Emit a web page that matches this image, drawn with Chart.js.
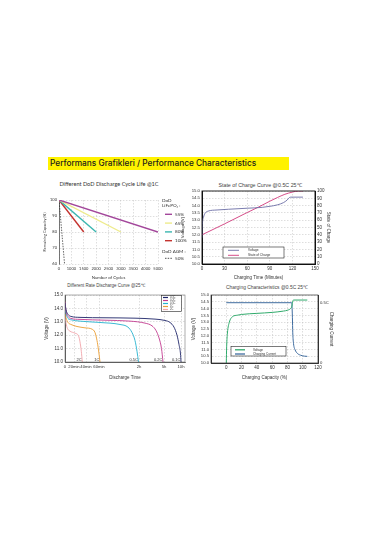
<!DOCTYPE html>
<html>
<head>
<meta charset="utf-8">
<script src="https://cdn.jsdelivr.net/npm/chart.js@4.4.1/dist/chart.umd.min.js"></script>
<style>
  body { margin: 0; background: #fff; }
  #page { position: relative; width: 375px; height: 535px; overflow: hidden; background: #fff; }
  .banner { position: absolute; left: 48px; top: 157px; width: 241px; height: 13px; background: #fff200;
    font-family: Inter, Roboto, sans-serif; font-weight: 500; font-size: 8.3px; line-height: 13px;
    color: #1a1a1a; padding-left: 2px; box-sizing: border-box; white-space: nowrap; }
  .ttl { position: absolute; width: 200px; text-align: center; white-space: nowrap; color: #444;
    font-family: "Liberation Sans", Arial, sans-serif; line-height: 1.2; }
  canvas { position: absolute; }
</style>
</head>
<body>
<div id="page">
  <div class="banner">Performans Grafikleri / Performance Characteristics</div>

  <div class="ttl" style="left:9px;top:180.6px;font-size:5.6px;font-family:Lato,sans-serif;color:#333">Different DoD Discharge Cycle Life @1C</div>
  <div class="ttl" style="left:160px;top:181.8px;font-size:5.3px">State of Charge Curve @0.5C 25℃</div>
  <div class="ttl" style="left:6px;top:283.3px;font-size:4.5px">Different Rate Discharge Curve @25℃</div>
  <div class="ttl" style="left:167px;top:285px;font-size:4.9px">Charging Characteristics @0.5C 25℃</div>

  <canvas id="dodChart" width="162" height="104" style="left:38px;top:176px"></canvas>
  <canvas id="socChart" width="153" height="102" style="left:180px;top:178px"></canvas>
  <canvas id="rateChart" width="157" height="90" style="left:38px;top:290px"></canvas>
  <canvas id="chargeChart" width="148" height="90" style="left:188px;top:290px"></canvas>
</div>

<script>
const LABEL_FONT = "'Liberation Sans', Arial, sans-serif";

// Different DoD discharge cycle life @1C
const cycleLabels = [0, 1000, 1500, 2000, 2500, 3000, 3500, 4000, 5000];
const dodSeries = ['55%', '65%', '80%', '100%'];
const dodEndCycles = [5000, 3000, 2000, 1500];
const dodStartCapacity = [100, 100, 100, 100];
const dodEndCapacity = [80, 80, 80, 80];
const agmSeries = '50%';
const agmCycles = [0, 450];
const agmCapacity = [100, 60];

// State of charge curve @0.5C 25C
const socVoltTime = [0, 0.5, 2, 4, 8, 20, 35, 60, 80, 90, 100, 108, 113, 116, 118, 134];
const socVoltage = [11.8, 12.7, 13.2, 13.47, 13.62, 13.7, 13.75, 13.82, 13.88, 13.95, 14.05, 14.2, 14.38, 14.55, 14.58, 14.58];
const socTime = [0, 30, 60, 75, 90, 100, 110, 120, 128, 134];
const socCharge = [40, 55, 70.5, 78, 86, 91, 95.5, 98.5, 100, 100];

// Different rate discharge curve @25C (x in axis positions, ticks below)
const rateTickPos = [0, 9, 21, 34, 74, 99, 116];
const rateTickLabels = ['0', '20min', '40min', '60min', '2h', '5h', '10h'];
const rateSeries = ['0.1C', '0.2C', '0.5C', '1C', '2C'];
const rateX = [
  [0, 1, 3, 6, 15, 40, 70, 90, 100, 105, 109, 112, 114, 115.5, 116],
  [0, 1, 3, 6, 15, 40, 65, 80, 87, 91, 94, 96.5, 98],
  [0, 1, 3, 6, 15, 35, 55, 63, 67, 70, 72, 73.5],
  [0, 1, 3, 6, 12, 20, 27, 30, 32, 33.5, 35],
  [0, 1, 2.5, 5, 10, 13.5, 15, 16.3, 17.3]
];
const rateVolt = [
  [14.4, 13.9, 13.55, 13.4, 13.33, 13.3, 13.27, 13.2, 13.1, 12.95, 12.6, 12.0, 11.3, 10.6, 10.0],
  [14.5, 13.8, 13.4, 13.25, 13.18, 13.12, 13.05, 12.9, 12.7, 12.35, 11.8, 11.0, 10.0],
  [14.0, 13.6, 13.25, 13.15, 13.05, 12.95, 12.8, 12.6, 12.2, 11.6, 10.8, 10.0],
  [13.6, 13.3, 12.95, 12.8, 12.65, 12.55, 12.45, 12.2, 11.6, 10.9, 10.0],
  [13.4, 12.9, 12.5, 12.3, 12.15, 11.95, 11.5, 10.8, 10.0]
];

// Charging characteristics @0.5C 25C
const chgVoltCap = [0, 0.5, 1.5, 4, 8, 15, 20, 40, 60, 75, 80, 84, 86, 87, 88, 106];
const chgVoltage = [10.0, 11.2, 12.2, 13.0, 13.4, 13.52, 13.57, 13.65, 13.72, 13.82, 13.88, 14.0, 14.2, 14.55, 14.63, 14.63];
const chgCurrCap = [0, 85.5, 86, 86.5, 87, 88, 90, 93, 97, 102, 106];
const chgCurrent = [0.5, 0.5, 0.47, 0.38, 0.25, 0.16, 0.11, 0.08, 0.065, 0.057, 0.055];

const dodColors = ['#a3479b', '#eeeb8c', '#3bb6b0', '#c4332f'];
const rateColors = ['#1d2468', '#c23a8f', '#25b2cf', '#eb9d32', '#f2a5aa'];

function pairs(xs, ys) {
  return xs.map((x, i) => ({ x: x, y: ys[i] }));
}

// position of a cycle count on the unevenly labelled axis
function cyclePos(c) {
  for (let i = 0; i < cycleLabels.length - 1; i++) {
    if (c <= cycleLabels[i + 1]) {
      return i + (c - cycleLabels[i]) / (cycleLabels[i + 1] - cycleLabels[i]);
    }
  }
  return cycleLabels.length - 1;
}

function fixWidth(w) { return function(scale) { scale.width = w; }; }
function fixHeight(h) { return function(scale) { scale.height = h; }; }

function grid(extra) {
  return Object.assign({ color: '#bdbdbd', lineWidth: 0.5, drawTicks: false }, extra || {});
}

const frame = {
  id: 'frame',
  afterDraw(chart, args, opts) {
    if (!opts.color) return;
    const a = chart.chartArea;
    const ctx = chart.ctx;
    ctx.save();
    ctx.strokeStyle = opts.color;
    ctx.lineWidth = opts.width || 0.8;
    ctx.strokeRect(a.left, a.top, a.right - a.left, a.bottom - a.top);
    ctx.restore();
  }
};

const boxLegend = {
  id: 'boxLegend',
  afterDraw(chart, args, opts) {
    if (!opts.box) return;
    const ctx = chart.ctx;
    const [bx, by, bw, bh] = opts.box;
    ctx.save();
    ctx.fillStyle = '#fff';
    ctx.fillRect(bx, by, bw, bh);
    ctx.strokeStyle = '#222';
    ctx.lineWidth = 0.6;
    ctx.strokeRect(bx, by, bw, bh);
    ctx.font = opts.fontSize + 'px ' + LABEL_FONT;
    ctx.textBaseline = 'middle';
    chart.data.datasets.forEach((ds, i) => {
      const y = by + opts.rowTop + i * opts.rowGap;
      ctx.strokeStyle = ds.borderColor;
      ctx.lineWidth = opts.lineWidth || 1;
      ctx.beginPath();
      ctx.moveTo(bx + opts.lineX[0], y);
      ctx.lineTo(bx + opts.lineX[1], y);
      ctx.stroke();
      ctx.fillStyle = '#333';
      ctx.fillText(ds.label, bx + opts.textX, y);
    });
    ctx.restore();
  }
};

const dodLegend = {
  id: 'dodLegend',
  afterDraw(chart) {
    const ctx = chart.ctx;
    const a = chart.chartArea;
    const x = a.right + 4;
    ctx.save();
    ctx.font = '4.6px Lato, sans-serif';
    ctx.fillStyle = '#333';
    ctx.textBaseline = 'middle';
    ctx.fillText('DoD', x, a.top + 0.5);
    ctx.fillText('LiFePO\u2084 :', x, a.top + 6);
    chart.data.datasets.forEach((ds, i) => {
      const y = i < dodSeries.length ? a.top + 14.3 + i * 8.8 : a.top + 58.3;
      ctx.strokeStyle = ds.borderColor;
      ctx.lineWidth = i < dodSeries.length ? 1.4 : 0.8;
      ctx.setLineDash(ds.borderDash || []);
      ctx.beginPath();
      ctx.moveTo(x + 3, y);
      ctx.lineTo(x + 10, y);
      ctx.stroke();
      ctx.setLineDash([]);
      ctx.fillText(ds.label, x + 13, y);
    });
    ctx.fillText('DoD AGM :', x, a.top + 51.7);
    ctx.restore();
  }
};

const endLabels = {
  id: 'endLabels',
  afterDatasetsDraw(chart, args, opts) {
    if (!opts.fontSize) return;
    const ctx = chart.ctx;
    const a = chart.chartArea;
    ctx.save();
    ctx.font = opts.fontSize + 'px ' + LABEL_FONT;
    ctx.fillStyle = '#333';
    ctx.textAlign = 'right';
    ctx.textBaseline = 'bottom';
    chart.data.datasets.forEach((ds, i) => {
      const pts = chart.getDatasetMeta(i).data;
      const last = pts[pts.length - 1];
      ctx.fillText(ds.label, last.x - 0.6, a.bottom - 0.3);
    });
    ctx.restore();
  }
};

function initDodChart() {
  const datasets = dodSeries.map((name, i) => ({
    label: name,
    data: pairs([0, cyclePos(dodEndCycles[i])], [dodStartCapacity[i], dodEndCapacity[i]]),
    borderColor: dodColors[i],
    borderWidth: 1.4
  }));
  datasets.push({
    label: agmSeries,
    data: pairs(agmCycles.map(cyclePos), agmCapacity),
    borderColor: '#222',
    borderWidth: 0.7,
    borderDash: [1.5, 1.2]
  });

  new Chart(document.getElementById('dodChart'), {
    type: 'line',
    data: { datasets: datasets },
    plugins: [dodLegend],
    options: {
      responsive: false,
      animation: false,
      events: [],
      layout: { padding: { left: 0, right: 42, top: 24, bottom: 0 } },
      elements: { point: { radius: 0 }, line: { tension: 0 } },
      plugins: { legend: { display: false }, tooltip: { enabled: false } },
      scales: {
        x: {
          type: 'linear', min: 0, max: cycleLabels.length - 1,
          afterFit: fixHeight(16),
          grid: grid(),
          border: { display: false, dash: [1.5, 1.5] },
          ticks: {
            stepSize: 1, autoSkip: false, maxRotation: 0, padding: 2,
            font: { size: 4, family: 'Lato, sans-serif' }, color: '#333',
            callback: (v) => cycleLabels[v] !== undefined ? String(cycleLabels[v]) : ''
          },
          title: { display: true, text: 'Number of Cycles', font: { size: 4.3, family: 'Lato, sans-serif' },
                   color: '#333', padding: { top: 1.5, bottom: 0 } }
        },
        y: {
          min: 60, max: 100,
          afterFit: fixWidth(21),
          grid: grid(),
          border: { color: '#555', width: 0.8, dash: [1.5, 1.5] },
          ticks: { stepSize: 10, padding: 2, font: { size: 4, family: 'Lato, sans-serif' }, color: '#333' },
          title: { display: true, text: 'Remaining Capacity (%)', font: { size: 3.8, family: 'Lato, sans-serif' },
                   color: '#333', padding: { top: 4.5, bottom: 0 } }
        }
      }
    }
  });
}

function initSocChart() {
  new Chart(document.getElementById('socChart'), {
    type: 'line',
    data: {
      datasets: [
        { label: 'Voltage', data: pairs(socVoltTime, socVoltage), borderColor: '#6c6ea6', borderWidth: 0.9, yAxisID: 'y' },
        { label: 'State of Charge', data: pairs(socTime, socCharge), borderColor: '#d13a7c', borderWidth: 0.9, yAxisID: 'y2' }
      ]
    },
    plugins: [frame, boxLegend],
    options: {
      responsive: false,
      animation: false,
      events: [],
      layout: { padding: { left: 0, right: 0, top: 13, bottom: 0 } },
      elements: { point: { radius: 0 }, line: { cubicInterpolationMode: 'monotone' } },
      plugins: {
        legend: { display: false }, tooltip: { enabled: false },
        frame: { color: '#111', width: 0.9 },
        boxLegend: { box: [43, 69, 61, 11], rowTop: 3.3, rowGap: 5, lineX: [5, 16], textX: 25, fontSize: 3.2, lineWidth: 0.9 }
      },
      scales: {
        x: {
          type: 'linear', min: 0, max: 150,
          afterFit: fixHeight(16),
          grid: grid(),
          border: { color: '#111', dash: [1.5, 1.5] },
          ticks: { stepSize: 30, padding: 2, maxRotation: 0, font: { size: 4.5 }, color: '#333' },
          title: { display: true, text: 'Charging Time (Minutes)', font: { size: 4.5 }, color: '#333', padding: { top: 0.5, bottom: 0 } }
        },
        y: {
          min: 10, max: 15,
          afterFit: fixWidth(22),
          grid: grid(),
          border: { color: '#111', dash: [1.5, 1.5] },
          ticks: { stepSize: 0.5, autoSkip: false, padding: 2, font: { size: 4.3 }, color: '#333', callback: (v) => v.toFixed(1) },
          title: { display: true, text: 'Voltage (V)', font: { size: 4.3 }, color: '#333', padding: { top: 0.3, bottom: 0 } }
        },
        y2: {
          position: 'right', min: 0, max: 100,
          afterFit: fixWidth(18),
          grid: grid({ drawOnChartArea: false }),
          border: { color: '#111' },
          ticks: { stepSize: 10, autoSkip: false, padding: 2, font: { size: 4.5 }, color: '#333' },
          title: { display: true, text: 'State of Charge', font: { size: 4.5 }, color: '#333', padding: { top: 2, bottom: 0 } }
        }
      }
    }
  });
}

function initRateChart() {
  new Chart(document.getElementById('rateChart'), {
    type: 'line',
    data: {
      datasets: rateSeries.map((name, i) => ({
        label: name,
        data: pairs(rateX[i], rateVolt[i]),
        borderColor: rateColors[i],
        borderWidth: 0.9
      }))
    },
    plugins: [frame, endLabels, boxLegend],
    options: {
      responsive: false,
      animation: false,
      events: [],
      layout: { padding: { left: 0, right: 10, top: 5, bottom: 0 } },
      elements: { point: { radius: 0 }, line: { cubicInterpolationMode: 'monotone' } },
      plugins: {
        legend: { display: false }, tooltip: { enabled: false },
        frame: { color: '#777', width: 0.6 },
        endLabels: { fontSize: 4 },
        boxLegend: { box: [123.5, 5.5, 20, 16], rowTop: 2, rowGap: 3, lineX: [1.5, 6.5], textX: 8.5, fontSize: 2.6, lineWidth: 1.2 }
      },
      scales: {
        x: {
          type: 'linear', min: 0, max: 120,
          afterFit: fixHeight(18),
          afterBuildTicks: (scale) => { scale.ticks = rateTickPos.map((v) => ({ value: v })); },
          grid: grid(),
          border: { color: '#555', dash: [1.5, 1.5] },
          ticks: { autoSkip: false, maxRotation: 0, padding: 2, font: { size: 4.2 }, color: '#333',
                   callback: (v, i) => rateTickLabels[i] },
          title: { display: true, text: 'Discharge Time', font: { size: 4.5 }, color: '#333', padding: { top: 1.5, bottom: 0 } }
        },
        y: {
          min: 10, max: 15,
          afterFit: fixWidth(27),
          grid: grid(),
          border: { color: '#555', dash: [1.5, 1.5] },
          ticks: { stepSize: 1, padding: 2, font: { size: 4.5 }, color: '#333', callback: (v) => v.toFixed(1) },
          title: { display: true, text: 'Voltage (V)', font: { size: 4.5 }, color: '#333', padding: { top: 6, bottom: 0 } }
        }
      }
    }
  });
}

function initChargeChart() {
  new Chart(document.getElementById('chargeChart'), {
    type: 'line',
    data: {
      datasets: [
        { label: 'Voltage', data: pairs(chgVoltCap, chgVoltage), borderColor: '#2faa6b', borderWidth: 1, yAxisID: 'y' },
        { label: 'Charging Current', data: pairs(chgCurrCap, chgCurrent), borderColor: '#3f6c9f', borderWidth: 1, yAxisID: 'y2' }
      ]
    },
    plugins: [frame, boxLegend],
    options: {
      responsive: false,
      animation: false,
      events: [],
      layout: { padding: { left: 0, right: 0, top: 5, bottom: 0 } },
      elements: { point: { radius: 0 }, line: { cubicInterpolationMode: 'monotone' } },
      plugins: {
        legend: { display: false }, tooltip: { enabled: false },
        frame: { color: '#333', width: 0.7 },
        boxLegend: { box: [43, 56.5, 55, 9.5], rowTop: 3.3, rowGap: 4.2, lineX: [4, 14], textX: 22, fontSize: 3, lineWidth: 1.3 }
      },
      scales: {
        x: {
          type: 'linear', min: -20, max: 120,
          afterFit: fixHeight(17),
          grid: grid(),
          border: { color: '#333', dash: [1.5, 1.5] },
          ticks: { stepSize: 20, maxRotation: 0, padding: 2, font: { size: 4.5 }, color: '#333',
                   callback: (v) => v < 0 ? '' : v },
          title: { display: true, text: 'Charging Capacity (%)', font: { size: 4.5 }, color: '#333', padding: { top: 1, bottom: 0 } }
        },
        y: {
          min: 10, max: 15,
          afterFit: fixWidth(23),
          grid: grid(),
          border: { color: '#333', dash: [1.5, 1.5] },
          ticks: { stepSize: 0.5, autoSkip: false, padding: 2, font: { size: 4.2 }, color: '#333', callback: (v) => v.toFixed(1) },
          title: { display: true, text: 'Voltage (V)', font: { size: 4.5 }, color: '#333', padding: { top: 3, bottom: 0 } }
        },
        y2: {
          position: 'right', min: 0, max: 0.564,
          afterFit: fixWidth(18),
          afterBuildTicks: (scale) => { scale.ticks = [{ value: 0 }, { value: 0.5 }]; },
          grid: grid({ drawOnChartArea: false }),
          border: { color: '#333' },
          ticks: { autoSkip: false, padding: 2, font: { size: 4.2 }, color: '#333', callback: (v) => v === 0 ? '0' : '0.5C' },
          title: { display: true, text: 'Charging Current', font: { size: 4.5 }, color: '#333', padding: { top: 2, bottom: 0 } }
        }
      }
    }
  });
}

document.addEventListener('DOMContentLoaded', function() {
  initDodChart();
  initSocChart();
  initRateChart();
  initChargeChart();
});
</script>
</body>
</html>
